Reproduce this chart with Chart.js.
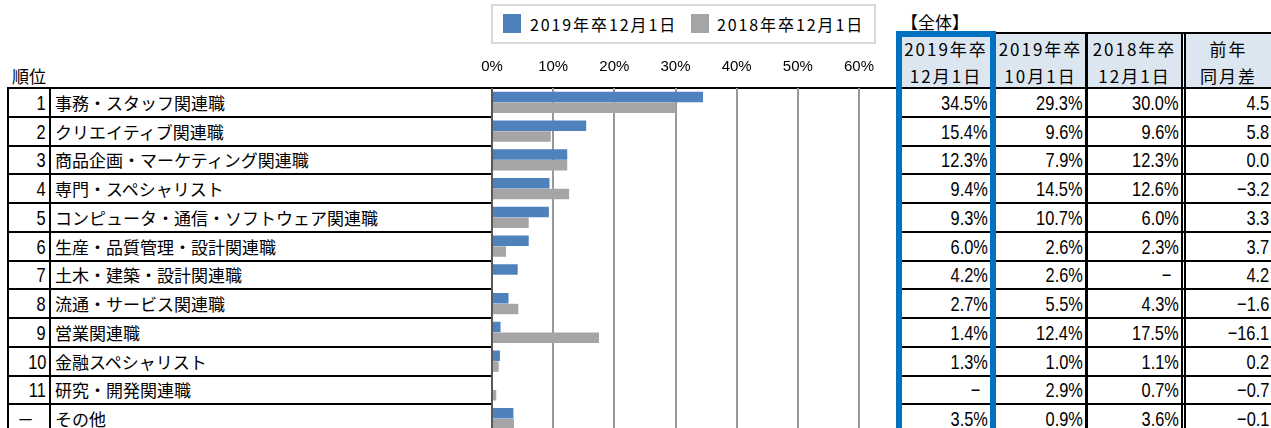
<!DOCTYPE html>
<html lang="ja">
<head>
<meta charset="utf-8">
<script src="https://cdn.jsdelivr.net/npm/chart.js@4.4.1/dist/chart.umd.min.js"></script>
<style>
html, body { margin: 0; padding: 0; background: #fff; overflow: hidden; }
#wrap { position: relative; width: 1271px; height: 428px; overflow: hidden; }
.ln { position: absolute; background: #000; }
.cell { position: absolute; display: flex; align-items: center; white-space: nowrap; color: #000; }
.jp { font-family: "Noto Sans CJK JP", "Noto Sans", sans-serif; font-size: 17px; line-height: 1; }
.num { font-family: "Liberation Sans", Arial, sans-serif; font-size: 21px; line-height: 1;
       display: inline-block; transform: scaleX(0.78); transform-origin: right center; }
#chart { position: absolute; left: 0; top: 0; }
</style>
</head>
<body>
<div id="wrap">
  <canvas id="chart" width="1271" height="434"></canvas>
</div>
<script>
// ── Data ─────────────────────────────────────────────────
const ranks = ['1', '2', '3', '4', '5', '6', '7', '8', '9', '10', '11', '－'];
const jobs = [
  '事務・スタッフ関連職', 'クリエイティブ関連職', '商品企画・マーケティング関連職',
  '専門・スペシャリスト', 'コンピュータ・通信・ソフトウェア関連職', '生産・品質管理・設計関連職',
  '土木・建築・設計関連職', '流通・サービス関連職', '営業関連職', '金融スペシャリスト',
  '研究・開発関連職', 'その他'
];
const dec2019 = [34.5, 15.4, 12.3, 9.4, 9.3, 6.0, 4.2, 2.7, 1.4, 1.3, null, 3.5];
const oct2019 = [29.3, 9.6, 7.9, 14.5, 10.7, 2.6, 2.6, 5.5, 12.4, 1.0, 2.9, 0.9];
const dec2018 = [30.0, 9.6, 12.3, 12.6, 6.0, 2.3, null, 4.3, 17.5, 1.1, 0.7, 3.6];
const diffYoY = [4.5, 5.8, 0.0, -3.2, 3.3, 3.7, 4.2, -1.6, -16.1, 0.2, -0.7, -0.1];

const seriesLabels = ['2019年卒12月1日', '2018年卒12月1日'];
const colHeaders = [['2019年卒', '12月1日'], ['2019年卒', '10月1日'], ['2018年卒', '12月1日'], ['前年', '同月差']];
const xMin = 0, xMax = 60, xStep = 10;

const BLUE = '#4f81bd', GREY = '#a5a5a5';
const TOP = 88, ROW_H = 28.75;

// ── Helpers ──────────────────────────────────────────────
const wrap = document.getElementById('wrap');
const canvas = document.getElementById('chart');

function box(cls, css, html) {
  const d = document.createElement('div');
  d.className = cls;
  Object.assign(d.style, css);
  if (html != null) d.innerHTML = html;
  wrap.insertBefore(d, canvas);
  return d;
}
const px = v => v + 'px';
const line = (x, y, w, h, color) =>
  box('ln', { left: px(x), top: px(y), width: px(w), height: px(h), background: color || '#000' });

const fmtPct  = v => v == null ? '−' : v.toFixed(1) + '%';
const fmtDiff = v => (v < 0 ? '−' : '') + Math.abs(v).toFixed(1);

// ── Title / legend ───────────────────────────────────────
box('cell jp', { left: '12px', top: '66px', height: '18px' }, '順位');
box('cell jp', { left: '901px', top: '12px', height: '18px' }, '【全体】');

box('', { position: 'absolute', left: '491px', top: '4px', width: '385px', height: '40px',
          border: '2px solid #d9d9d9', boxSizing: 'border-box' });
const legendX = [[503, 530], [691, 717]];
seriesLabels.forEach((lab, i) => {
  box('ln', { left: px(legendX[i][0]), top: '14px', width: '18px', height: '19px',
              background: i === 0 ? BLUE : GREY });
  box('cell jp', { left: px(legendX[i][1]), top: '14px', height: '20px', fontSize: '16px',
                   letterSpacing: '1.9px' }, lab);
});

// ── Left table (rank + job name) ─────────────────────────
line(7, 87, 1264, 2);
for (let i = 1; i <= jobs.length; i++) {
  line(7, Math.round(TOP + i * ROW_H) - 1, 485, 2);
}
line(7, 87, 2, 350);
line(49, 87, 2, 350);

jobs.forEach((name, i) => {
  const y = TOP + i * ROW_H;
  const r = ranks[i];
  if (/^\d+$/.test(r)) {
    box('cell', { left: '8px', width: '38px', top: px(y), height: px(ROW_H), justifyContent: 'flex-end' },
        `<span class="num">${r}</span>`);
  } else {
    box('cell jp', { left: '17px', top: px(y), height: px(ROW_H) }, r);
  }
  box('cell jp', { left: '55px', top: px(y), height: px(ROW_H) }, name);
});

// ── Right table ──────────────────────────────────────────
const cols = [[902, 990], [996, 1085], [1088, 1181], [1186, 1271]];
const colData = [dec2019.map(fmtPct), oct2019.map(fmtPct), dec2018.map(fmtPct), diffYoY.map(fmtDiff)];

cols.forEach(([l, r], c) => {
  box('ln', { left: px(l), top: px(c === 0 ? 37 : 34), width: px(r - l), height: px(87 - (c === 0 ? 37 : 34)),
              background: '#dce6f1' });
  colHeaders[c].forEach((t, k) => {
    box('cell jp', { left: px(l), width: px(r - l), top: px(k === 0 ? 39 : 66), height: '18px',
                     justifyContent: 'center', letterSpacing: '2px' }, t);
  });
});
line(990, 32, 281, 2);
for (let i = 1; i <= jobs.length; i++) {
  line(896, Math.round(TOP + i * ROW_H) - 1, 375, 2);
}
line(1085, 32, 3, 402);
line(1181, 32, 2, 402);
line(1184, 32, 2, 402);
box('', { position: 'absolute', left: '896px', top: '31px', width: '100px', height: '420px',
          border: '6px solid #0070c0', boxSizing: 'border-box' });

colData.forEach((vals, c) => {
  const [l, r] = cols[c];
  vals.forEach((t, i) => {
    const y = TOP + i * ROW_H;
    box('cell', { left: px(l), width: px(r - l - 2), top: px(y), height: px(ROW_H), justifyContent: 'flex-end',
                  paddingRight: t === '−' ? '8px' : '0', boxSizing: 'border-box' },
        `<span class="num">${t}</span>`);
  });
});

// ── Bar chart ────────────────────────────────────────────
new Chart(canvas, {
  type: 'bar',
  data: {
    labels: jobs,
    datasets: [
      { label: seriesLabels[0], data: dec2019, backgroundColor: BLUE },
      { label: seriesLabels[1], data: dec2018, backgroundColor: GREY },
    ],
  },
  options: {
    indexAxis: 'y',
    responsive: false,
    devicePixelRatio: 1,
    animation: false,
    categoryPercentage: 0.75,
    barPercentage: 0.97,
    layout: { padding: { left: 492, right: 412, top: 60, bottom: 1 } },
    scales: {
      x: {
        position: 'top',
        min: xMin, max: xMax,
        afterFit: s => { s.height = 28; },
        border: { display: false },
        grid: {
          drawTicks: false,
          lineWidth: 2,
          color: ctx => ctx.tick && ctx.tick.value === 0 ? '#595959' : '#989898',
        },
        ticks: {
          stepSize: xStep,
          padding: 12,
          color: '#000',
          font: { family: 'Liberation Sans, Arial, sans-serif', size: 15 },
          callback: v => v + '%',
        },
      },
      y: {
        afterFit: s => { s.width = 0; },
        grid: { display: false },
        border: { display: false },
        ticks: { display: false },
      },
    },
    plugins: { legend: { display: false }, tooltip: { enabled: false } },
  },
});
</script>
</body>
</html>
